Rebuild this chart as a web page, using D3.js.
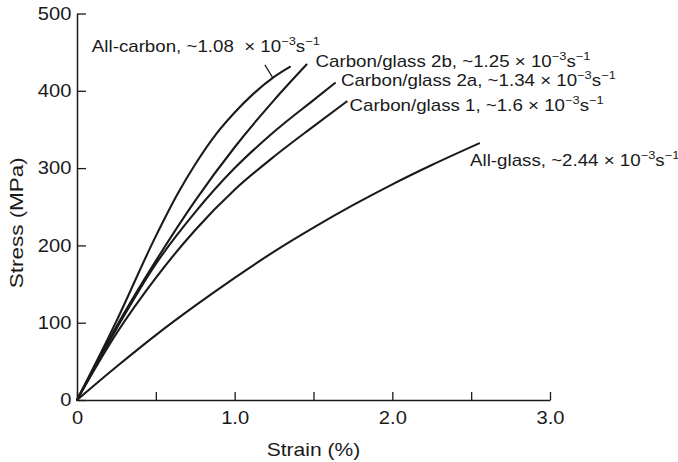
<!DOCTYPE html>
<html><head><meta charset="utf-8">
<script src="https://cdn.jsdelivr.net/npm/d3@7"></script>
<style>
body{margin:0;background:#fff}
svg{display:block}
text{font-family:"Liberation Sans",Arial,Helvetica,sans-serif;fill:#1a1a1a}
</style>
</head><body><svg id="c" width="678" height="462"></svg>
<script>
// ---- data ----
const seriesNames = ["All-carbon", "Carbon/glass 2b", "Carbon/glass 2a", "Carbon/glass 1", "All-glass"];
const strainRates = ["~1.08", "~1.25", "~1.34", "~1.6", "~2.44"];
const allCarbon     = [[0,0],[0.25,102],[0.5,212],[0.642,268],[0.75,305],[0.886,345],[1.0,372],[1.118,396],[1.25,418],[1.35,431]];
const carbonGlass2b = [[0,0],[0.25,95],[0.5,180],[0.75,258],[1.0,327],[1.25,388],[1.456,434]];
const carbonGlass2a = [[0,0],[0.25,92],[0.5,176],[0.75,243],[1.0,300],[1.25,347],[1.5,388],[1.636,410]];
const carbonGlass1  = [[0,0],[0.25,86],[0.5,158],[0.75,220],[1.0,272],[1.25,315],[1.5,354],[1.71,386]];
const allGlass      = [[0,0],[0.25,43],[0.5,84],[0.75,122],[1.0,158],[1.25,192],[1.5,223],[1.75,252],[2.0,279],[2.25,304],[2.55,332]];
const xTickValues = [0, 0.5, 1, 1.5, 2, 2.5, 3];
const xTickLabels = ["0", "", "1.0", "", "2.0", "", "3.0"];
const yTickValues = [0, 100, 200, 300, 400, 500];
const yTickLabels = ["0", "100", "200", "300", "400", "500"];
const xTitle = "Strain (%)";
const yTitle = "Stress (MPa)";

const seriesData = [allCarbon, carbonGlass2b, carbonGlass2a, carbonGlass1, allGlass];

// ---- layout ----
const svg = d3.select("#c");
const x = d3.scaleLinear().domain([0, 3]).range([77, 550]);
const y = d3.scaleLinear().domain([0, 500]).range([400, 13.5]);
const ink = "#1a1a1a";
const tickStretch = 1.12, labelStretch = 1.17;

// x axis
const gx = svg.append("g").attr("transform", `translate(0,${y(0)})`)
  .call(d3.axisBottom(x).tickValues(xTickValues)
    .tickFormat((d, i) => xTickLabels[i]).tickSize(-8).tickSizeOuter(0).tickPadding(11));
gx.select(".domain").attr("stroke", ink).attr("stroke-width", 1.5);
gx.selectAll(".tick line").attr("stroke", ink).attr("stroke-width", 1.3);
gx.selectAll(".tick text").attr("font-size", 18).attr("font-family", null)
  .attr("fill", ink).attr("transform", `scale(${tickStretch},1)`);

// y axis
const gy = svg.append("g").attr("transform", `translate(${x(0)},0)`)
  .call(d3.axisLeft(y).tickValues(yTickValues)
    .tickFormat((d, i) => yTickLabels[i]).tickSize(-9).tickSizeOuter(0).tickPadding(5));
gy.select(".domain").attr("stroke", ink).attr("stroke-width", 1.5);
gy.selectAll(".tick line").attr("stroke", ink).attr("stroke-width", 1.3);
gy.selectAll(".tick text").attr("font-size", 18).attr("font-family", null)
  .attr("fill", ink).attr("transform", `scale(${tickStretch},1)`);

// axis titles
svg.append("text").attr("transform", `translate(${(x(0)+x(3))/2},456) scale(${labelStretch},1)`)
  .attr("text-anchor", "middle").attr("font-size", 18).text(xTitle);
svg.append("text").attr("transform", `translate(23,${(y(0)+y(500))/2 + 16}) rotate(-90) scale(1.25,1)`)
  .attr("text-anchor", "middle").attr("font-size", 18).text(yTitle);

// curves
const line = d3.line().x(d => x(d[0])).y(d => y(d[1])).curve(d3.curveMonotoneX);
svg.append("g").selectAll("path").data(seriesData).join("path")
  .attr("d", line).attr("fill", "none").attr("stroke", ink)
  .attr("stroke-width", 2.1).attr("stroke-linejoin", "round").attr("stroke-linecap", "round");

// labels, offset from each curve's end point
const labelOffsets = [[-198, -15], [9, 2], [6, 3], [3, 9], [-9, 23]];
seriesData.forEach((s, i) => {
  const end = s[s.length - 1];
  const t = svg.append("text")
    .attr("transform", `translate(${x(end[0]) + labelOffsets[i][0]},${y(end[1]) + labelOffsets[i][1]}) scale(${labelStretch},1)`)
    .attr("font-size", 16);
  t.append("tspan").text(`${seriesNames[i]}, ${strainRates[i]}${i === 0 ? "\u00a0\u00a0" : " "}\u00d7 10`);
  t.append("tspan").attr("font-size", 11).attr("dy", -7).text("\u22123");
  t.append("tspan").attr("dy", 7).text("s");
  t.append("tspan").attr("font-size", 11).attr("dy", -7).text("\u22121");
});

// leader tick for the all-carbon label
const lp = allCarbon[allCarbon.length - 1];
svg.append("line")
  .attr("x1", x(lp[0]) - 25).attr("y1", y(lp[1]) - 2)
  .attr("x2", x(lp[0]) - 17).attr("y2", y(lp[1]) + 11)
  .attr("stroke", ink).attr("stroke-width", 1.2);
</script></body></html>
